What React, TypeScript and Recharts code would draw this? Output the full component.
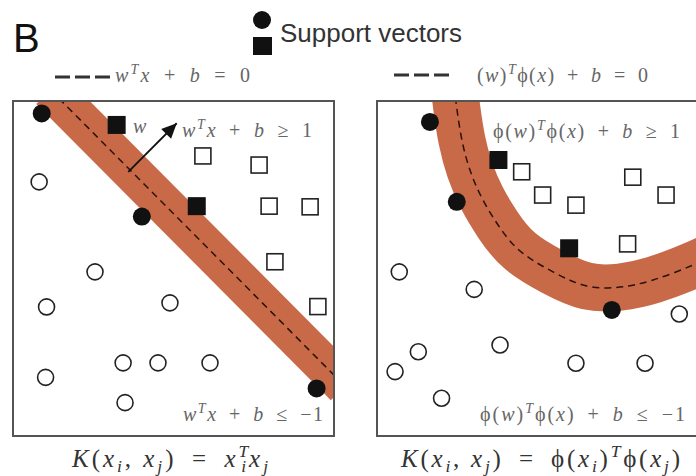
import React from "react";
import { ComposedChart, Line, Scatter, XAxis, YAxis } from "recharts";

// both panels use a 0..100 data square
const DOMAIN: [number, number] = [0, 100];

// linear kernel: straight margin band
const linBand = [
  { x: 11.9, y: 103.0 },
  { x: 103.1, y: 15.1 },
];
const linArrow = [
  { x: 36.0, y: 78.7 },
  { x: 51.0, y: 93.1 },
];
const linSupportCircles = [
  { x: 9.2, y: 96.0 },
  { x: 40.2, y: 65.4 },
  { x: 94.3, y: 14.4 },
];
const linSupportSquares = [
  { x: 32.4, y: 92.6 },
  { x: 57.2, y: 68.5 },
];
const linSquares = [
  { x: 59.1, y: 83.4 },
  { x: 76.5, y: 80.7 },
  { x: 79.6, y: 68.5 },
  { x: 92.3, y: 68.3 },
  { x: 81.4, y: 52.0 },
  { x: 94.7, y: 38.7 },
];
const linCircles = [
  { x: 8.4, y: 75.7 },
  { x: 25.7, y: 49.0 },
  { x: 10.7, y: 38.6 },
  { x: 48.9, y: 39.8 },
  { x: 34.4, y: 22.0 },
  { x: 45.2, y: 22.0 },
  { x: 61.3, y: 22.0 },
  { x: 10.4, y: 17.7 },
  { x: 35.0, y: 10.2 },
];

// non-linear kernel: curved margin band
const rbfBand = [
  { x: 24.1, y: 104.4 },
  { x: 25.1, y: 97.0 },
  { x: 26.6, y: 88.1 },
  { x: 29.1, y: 79.2 },
  { x: 32.8, y: 70.9 },
  { x: 37.8, y: 62.9 },
  { x: 44.6, y: 55.2 },
  { x: 54.8, y: 49.0 },
  { x: 65.3, y: 44.8 },
  { x: 75.5, y: 44.5 },
  { x: 85.8, y: 46.6 },
  { x: 98.1, y: 51.0 },
  { x: 108.1, y: 55.5 },
];
const rbfSupportCircles = [
  { x: 16.7, y: 93.5 },
  { x: 25.0, y: 69.8 },
  { x: 73.0, y: 37.7 },
];
const rbfSupportSquares = [
  { x: 37.9, y: 82.2 },
  { x: 59.8, y: 56.0 },
];
const rbfSquares = [
  { x: 45.1, y: 78.7 },
  { x: 51.6, y: 71.8 },
  { x: 61.9, y: 68.8 },
  { x: 79.5, y: 77.1 },
  { x: 89.8, y: 71.8 },
  { x: 77.9, y: 57.3 },
];
const rbfCircles = [
  { x: 7.2, y: 49.0 },
  { x: 30.4, y: 43.8 },
  { x: 93.9, y: 36.5 },
  { x: 13.1, y: 25.3 },
  { x: 38.4, y: 27.3 },
  { x: 5.9, y: 19.4 },
  { x: 61.9, y: 21.9 },
  { x: 83.3, y: 21.9 },
  { x: 20.3, y: 11.5 },
];

// formulas as token lists: [text, kind, dx]
// kind: i = italic, u = upright, sup / sub = scripts
type Tok = [string, string?, number?];
const PHI = "ϕ";
const SP = "\u2002"; // en space around relations / binary ops
const op = (s: string): Tok => [SP + s + SP, "u"];
const legendLin: Tok[] = [["w"], ["T", "sup"], ["x"], op("+"), ["b"], op("="), ["0", "u"]];
const legendRbf: Tok[] = [["(", "u"], ["w"], [")", "u"], ["T", "sup"], [PHI, "u"], ["(", "u"], ["x"], [")", "u"], op("+"), ["b"], op("="), ["0", "u"]];
const linUpper: Tok[] = [["w"], ["T", "sup"], ["x"], op("+"), ["b"], op("≥"), ["1", "u"]];
const linLower: Tok[] = [["w"], ["T", "sup"], ["x"], op("+"), ["b"], op("≤"), ["−1", "u"]];
const rbfUpper: Tok[] = [[PHI, "u"], ["(", "u"], ["w"], [")", "u"], ["T", "sup"], [PHI, "u"], ["(", "u"], ["x"], [")", "u"], op("+"), ["b"], op("≥"), ["1", "u"]];
const rbfLower: Tok[] = [[PHI, "u"], ["(", "u"], ["w"], [")", "u"], ["T", "sup"], [PHI, "u"], ["(", "u"], ["x"], [")", "u"], op("+"), ["b"], op("≤"), ["−1", "u"]];
const kernelLin: Tok[] = [["K"], ["(", "u"], ["x"], ["i", "sub"], [", ", "u"], ["x"], ["j", "sub"], [")", "u"], op("="), ["x"], ["T", "sup"], ["i", "sub", -9], ["x"], ["j", "sub"]];
const kernelRbf: Tok[] = [["K"], ["(", "u"], ["x"], ["i", "sub"], [", ", "u"], ["x"], ["j", "sub"], [")", "u"], op("="), [PHI, "u"], ["(", "u"], ["x"], ["i", "sub"], [")", "u"], ["T", "sup"], [PHI, "u"], ["(", "u"], ["x"], ["j", "sub"], [")", "u"]];

const BAND = "#c86a48";
const INK = "#111";
const PANEL_W = 323;
const PANEL_H = 337;

const serif = '"Liberation Serif", "DejaVu Serif", serif';
const sans = '"Liberation Sans", Arial, sans-serif';

const circleShape = (filled: boolean) => (p: any) =>
  filled ? (
    <circle cx={p.cx} cy={p.cy} r={9} fill={INK} />
  ) : (
    <circle cx={p.cx} cy={p.cy} r={8} fill="#fff" stroke="#222" strokeWidth={1.6} />
  );

const squareShape = (filled: boolean) => (p: any) =>
  filled ? (
    <rect x={p.cx - 9} y={p.cy - 9} width={18} height={18} fill={INK} />
  ) : (
    <rect x={p.cx - 8} y={p.cy - 8} width={16} height={16} fill="#fff" stroke="#222" strokeWidth={1.6} />
  );

// arrowhead pointing up-right, along the normal of the boundary
const arrowHead = (p: any) => (
  <polygon points="0,0 -15,-7 -15,7" transform={`translate(${p.cx},${p.cy}) rotate(-45)`} fill={INK} />
);

type Pt = { x: number; y: number };

interface PanelProps {
  left: number;
  band: Pt[];
  bandWidth: number;
  supportCircles: Pt[];
  supportSquares: Pt[];
  squares: Pt[];
  circles: Pt[];
  arrow?: Pt[];
}

const Panel = ({ left, band, bandWidth, supportCircles, supportSquares, squares, circles, arrow }: PanelProps) => (
  <div style={{ position: "absolute", left, top: 100, width: PANEL_W, height: PANEL_H }}>
    <ComposedChart width={PANEL_W} height={PANEL_H} margin={{ top: 0, right: 0, bottom: 0, left: 0 }}>
      <XAxis type="number" dataKey="x" domain={DOMAIN} hide allowDataOverflow />
      <YAxis type="number" dataKey="y" domain={DOMAIN} hide allowDataOverflow />
      <Line data={band} dataKey="y" type="natural" stroke={BAND} strokeWidth={bandWidth}
        dot={false} activeDot={false} isAnimationActive={false} />
      <Line data={band} dataKey="y" type="natural" stroke="#2a120a" strokeWidth={1.5}
        strokeDasharray="7 5" dot={false} activeDot={false} isAnimationActive={false} />
      {arrow && (
        <Line data={arrow} dataKey="y" type="linear" stroke={INK} strokeWidth={1.8}
          dot={false} activeDot={false} isAnimationActive={false} />
      )}
      {arrow && <Scatter data={[arrow[1]]} shape={arrowHead} isAnimationActive={false} />}
      <Scatter data={circles} shape={circleShape(false)} isAnimationActive={false} />
      <Scatter data={squares} shape={squareShape(false)} isAnimationActive={false} />
      <Scatter data={supportCircles} shape={circleShape(true)} isAnimationActive={false} />
      <Scatter data={supportSquares} shape={squareShape(true)} isAnimationActive={false} />
    </ComposedChart>
    <div style={{ position: "absolute", inset: 0, border: "2px solid #555", boxSizing: "border-box", pointerEvents: "none" }} />
  </div>
);

// lays out a token list as tspans, shifting scripts up / down
const MathText = ({ x, y, size, width, color, tokens }: { x: number; y: number; size: number; width: number; color: string; tokens: Tok[] }) => {
  let shift = 0;
  return (
    <text x={x} y={y} fontFamily={serif} fontStyle="italic" fontSize={size} fill={color}
      textLength={width} lengthAdjust="spacing" style={{ whiteSpace: "pre" }}>
      {tokens.map(([s, kind = "i", dx], idx) => {
        const script = kind === "sup" || kind === "sub";
        const target = kind === "sup" ? -0.42 * size : kind === "sub" ? 0.2 * size : 0;
        const dy = target - shift;
        shift = target;
        return (
          <tspan key={idx} dy={dy} dx={dx} fontSize={script ? size * 0.7 : undefined}
            fontStyle={kind === "u" ? "normal" : undefined}>
            {s}
          </tspan>
        );
      })}
    </text>
  );
};

export default function App() {
  return (
    <div style={{ position: "absolute", left: 0, top: 0, width: 696, height: 476, overflow: "hidden", background: "#fff" }}>
      <Panel left={12} band={linBand} bandWidth={40} supportCircles={linSupportCircles}
        supportSquares={linSupportSquares} squares={linSquares} circles={linCircles} arrow={linArrow} />
      <Panel left={376} band={rbfBand} bandWidth={47} supportCircles={rbfSupportCircles}
        supportSquares={rbfSupportSquares} squares={rbfSquares} circles={rbfCircles} />

      <svg width={696} height={476} style={{ position: "absolute", left: 0, top: 0, pointerEvents: "none" }}>
        <text x={13} y={52} fontFamily={sans} fontSize={40} fill="#111">B</text>
        <circle cx={262} cy={20} r={9} fill={INK} />
        <rect x={253} y={37} width={19} height={18} fill={INK} />
        <text x={280} y={42} fontFamily={sans} fontSize={26} fill="#333" textLength={182} lengthAdjust="spacingAndGlyphs">
          Support vectors
        </text>
        <line x1={55} y1={77} x2={110} y2={77} stroke="#333" strokeWidth={3} strokeDasharray="15 5" />
        <line x1={394} y1={75} x2={452} y2={75} stroke="#333" strokeWidth={3} strokeDasharray="15 5" />

        <MathText x={115} y={82} size={20} width={135} color="#666" tokens={legendLin} />
        <MathText x={477} y={82} size={20} width={171} color="#666" tokens={legendRbf} />

        <text x={133} y={133} fontFamily={serif} fontStyle="italic" fontSize={20} fill="#666">w</text>
        <MathText x={182} y={137} size={20} width={130} color="#666" tokens={linUpper} />
        <MathText x={183} y={421} size={20} width={140} color="#666" tokens={linLower} />
        <MathText x={493} y={138} size={20} width={187} color="#666" tokens={rbfUpper} />
        <MathText x={480} y={421} size={20} width={205} color="#666" tokens={rbfLower} />

        <MathText x={72} y={467} size={25} width={196} color="#333" tokens={kernelLin} />
        <MathText x={401} y={467} size={25} width={279} color="#333" tokens={kernelRbf} />
      </svg>
    </div>
  );
}
